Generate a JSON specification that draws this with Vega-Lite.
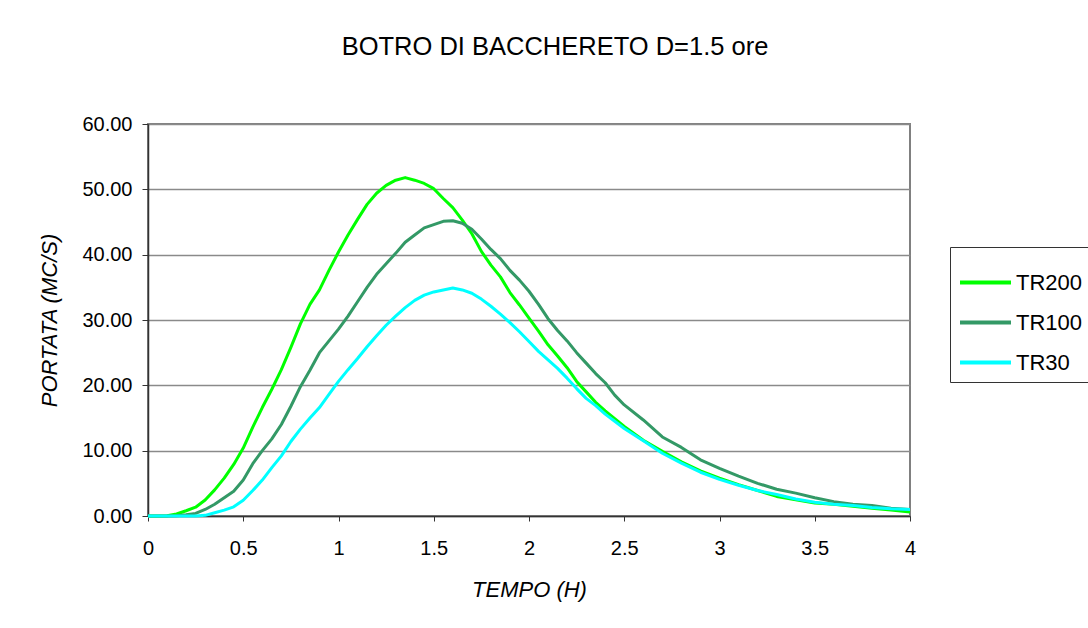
{
  "$schema": "https://vega.github.io/schema/vega-lite/v6.json",
  "width": 762,
  "height": 392,
  "autosize": {"type": "none"},
  "padding": {"left": 148, "top": 124, "right": 178, "bottom": 112},
  "background": "white",
  "title": {
    "text": "BOTRO DI BACCHERETO D=1.5 ore",
    "font": "Liberation Sans",
    "fontSize": 25.5,
    "fontWeight": "normal",
    "color": "#000",
    "anchor": "middle",
    "frame": "group",
    "baseline": "alphabetic",
    "dx": 26,
    "offset": 34
  },
  "config": {
    "view": {"stroke": "#808080", "strokeWidth": 2},
    "font": "Liberation Sans"
  },
  "datasets": {
    "flow": [
      {"t":0,"q":0,"s":"TR200"},{"t":0.05,"q":0,"s":"TR200"},{"t":0.1,"q":0.05,"s":"TR200"},{"t":0.15,"q":0.3,"s":"TR200"},{"t":0.2,"q":0.8,"s":"TR200"},{"t":0.25,"q":1.35,"s":"TR200"},{"t":0.3,"q":2.45,"s":"TR200"},{"t":0.35,"q":4.0,"s":"TR200"},{"t":0.4,"q":5.8,"s":"TR200"},{"t":0.45,"q":7.9,"s":"TR200"},{"t":0.5,"q":10.4,"s":"TR200"},{"t":0.55,"q":13.6,"s":"TR200"},{"t":0.6,"q":16.6,"s":"TR200"},{"t":0.65,"q":19.4,"s":"TR200"},{"t":0.7,"q":22.4,"s":"TR200"},{"t":0.75,"q":25.8,"s":"TR200"},{"t":0.8,"q":29.4,"s":"TR200"},{"t":0.85,"q":32.4,"s":"TR200"},{"t":0.9,"q":34.6,"s":"TR200"},{"t":0.95,"q":37.6,"s":"TR200"},{"t":1.0,"q":40.4,"s":"TR200"},{"t":1.05,"q":43.0,"s":"TR200"},{"t":1.1,"q":45.4,"s":"TR200"},{"t":1.15,"q":47.7,"s":"TR200"},{"t":1.2,"q":49.4,"s":"TR200"},{"t":1.25,"q":50.6,"s":"TR200"},{"t":1.3,"q":51.4,"s":"TR200"},{"t":1.35,"q":51.8,"s":"TR200"},{"t":1.4,"q":51.4,"s":"TR200"},{"t":1.45,"q":50.9,"s":"TR200"},{"t":1.5,"q":50.1,"s":"TR200"},{"t":1.55,"q":48.6,"s":"TR200"},{"t":1.6,"q":47.2,"s":"TR200"},{"t":1.65,"q":45.3,"s":"TR200"},{"t":1.7,"q":43.2,"s":"TR200"},{"t":1.75,"q":40.5,"s":"TR200"},{"t":1.8,"q":38.4,"s":"TR200"},{"t":1.85,"q":36.6,"s":"TR200"},{"t":1.9,"q":34.2,"s":"TR200"},{"t":1.95,"q":32.3,"s":"TR200"},{"t":2.0,"q":30.3,"s":"TR200"},{"t":2.05,"q":28.3,"s":"TR200"},{"t":2.1,"q":26.2,"s":"TR200"},{"t":2.15,"q":24.5,"s":"TR200"},{"t":2.2,"q":22.7,"s":"TR200"},{"t":2.25,"q":20.6,"s":"TR200"},{"t":2.3,"q":19.0,"s":"TR200"},{"t":2.35,"q":17.4,"s":"TR200"},{"t":2.4,"q":16.1,"s":"TR200"},{"t":2.45,"q":14.9,"s":"TR200"},{"t":2.5,"q":13.7,"s":"TR200"},{"t":2.6,"q":11.6,"s":"TR200"},{"t":2.7,"q":9.9,"s":"TR200"},{"t":2.8,"q":8.3,"s":"TR200"},{"t":2.9,"q":6.9,"s":"TR200"},{"t":3.0,"q":5.8,"s":"TR200"},{"t":3.1,"q":4.8,"s":"TR200"},{"t":3.2,"q":3.9,"s":"TR200"},{"t":3.3,"q":3.0,"s":"TR200"},{"t":3.4,"q":2.5,"s":"TR200"},{"t":3.5,"q":2.0,"s":"TR200"},{"t":3.6,"q":1.8,"s":"TR200"},{"t":3.7,"q":1.5,"s":"TR200"},{"t":3.8,"q":1.2,"s":"TR200"},{"t":3.9,"q":0.9,"s":"TR200"},{"t":4.0,"q":0.6,"s":"TR200"},
      {"t":0,"q":0,"s":"TR100"},{"t":0.1,"q":0,"s":"TR100"},{"t":0.15,"q":0.05,"s":"TR100"},{"t":0.2,"q":0.2,"s":"TR100"},{"t":0.25,"q":0.4,"s":"TR100"},{"t":0.3,"q":1.0,"s":"TR100"},{"t":0.35,"q":1.8,"s":"TR100"},{"t":0.4,"q":2.8,"s":"TR100"},{"t":0.45,"q":3.8,"s":"TR100"},{"t":0.5,"q":5.5,"s":"TR100"},{"t":0.55,"q":8.0,"s":"TR100"},{"t":0.6,"q":10.0,"s":"TR100"},{"t":0.65,"q":11.8,"s":"TR100"},{"t":0.7,"q":14.0,"s":"TR100"},{"t":0.75,"q":16.8,"s":"TR100"},{"t":0.8,"q":19.8,"s":"TR100"},{"t":0.85,"q":22.3,"s":"TR100"},{"t":0.9,"q":25.0,"s":"TR100"},{"t":0.95,"q":26.8,"s":"TR100"},{"t":1.0,"q":28.6,"s":"TR100"},{"t":1.05,"q":30.6,"s":"TR100"},{"t":1.1,"q":32.8,"s":"TR100"},{"t":1.15,"q":35.0,"s":"TR100"},{"t":1.2,"q":37.0,"s":"TR100"},{"t":1.25,"q":38.6,"s":"TR100"},{"t":1.3,"q":40.2,"s":"TR100"},{"t":1.35,"q":41.9,"s":"TR100"},{"t":1.4,"q":43.0,"s":"TR100"},{"t":1.45,"q":44.1,"s":"TR100"},{"t":1.5,"q":44.6,"s":"TR100"},{"t":1.55,"q":45.1,"s":"TR100"},{"t":1.6,"q":45.2,"s":"TR100"},{"t":1.65,"q":44.8,"s":"TR100"},{"t":1.7,"q":43.9,"s":"TR100"},{"t":1.75,"q":42.4,"s":"TR100"},{"t":1.8,"q":40.8,"s":"TR100"},{"t":1.85,"q":39.4,"s":"TR100"},{"t":1.9,"q":37.6,"s":"TR100"},{"t":1.95,"q":36.1,"s":"TR100"},{"t":2.0,"q":34.4,"s":"TR100"},{"t":2.05,"q":32.4,"s":"TR100"},{"t":2.1,"q":30.2,"s":"TR100"},{"t":2.15,"q":28.4,"s":"TR100"},{"t":2.2,"q":26.8,"s":"TR100"},{"t":2.25,"q":25.0,"s":"TR100"},{"t":2.3,"q":23.4,"s":"TR100"},{"t":2.35,"q":21.8,"s":"TR100"},{"t":2.4,"q":20.4,"s":"TR100"},{"t":2.45,"q":18.5,"s":"TR100"},{"t":2.5,"q":17.0,"s":"TR100"},{"t":2.6,"q":14.7,"s":"TR100"},{"t":2.7,"q":12.1,"s":"TR100"},{"t":2.8,"q":10.5,"s":"TR100"},{"t":2.9,"q":8.6,"s":"TR100"},{"t":3.0,"q":7.3,"s":"TR100"},{"t":3.1,"q":6.1,"s":"TR100"},{"t":3.2,"q":5.0,"s":"TR100"},{"t":3.3,"q":4.1,"s":"TR100"},{"t":3.4,"q":3.5,"s":"TR100"},{"t":3.5,"q":2.8,"s":"TR100"},{"t":3.6,"q":2.2,"s":"TR100"},{"t":3.7,"q":1.8,"s":"TR100"},{"t":3.8,"q":1.6,"s":"TR100"},{"t":3.9,"q":1.2,"s":"TR100"},{"t":4.0,"q":1.0,"s":"TR100"},
      {"t":0,"q":0,"s":"TR30"},{"t":0.25,"q":0,"s":"TR30"},{"t":0.3,"q":0.1,"s":"TR30"},{"t":0.35,"q":0.5,"s":"TR30"},{"t":0.4,"q":0.9,"s":"TR30"},{"t":0.45,"q":1.4,"s":"TR30"},{"t":0.5,"q":2.4,"s":"TR30"},{"t":0.55,"q":3.9,"s":"TR30"},{"t":0.6,"q":5.5,"s":"TR30"},{"t":0.65,"q":7.4,"s":"TR30"},{"t":0.7,"q":9.2,"s":"TR30"},{"t":0.75,"q":11.4,"s":"TR30"},{"t":0.8,"q":13.3,"s":"TR30"},{"t":0.85,"q":15.0,"s":"TR30"},{"t":0.9,"q":16.6,"s":"TR30"},{"t":0.95,"q":18.6,"s":"TR30"},{"t":1.0,"q":20.6,"s":"TR30"},{"t":1.05,"q":22.4,"s":"TR30"},{"t":1.1,"q":24.1,"s":"TR30"},{"t":1.15,"q":25.9,"s":"TR30"},{"t":1.2,"q":27.6,"s":"TR30"},{"t":1.25,"q":29.2,"s":"TR30"},{"t":1.3,"q":30.6,"s":"TR30"},{"t":1.35,"q":31.9,"s":"TR30"},{"t":1.4,"q":33.0,"s":"TR30"},{"t":1.45,"q":33.8,"s":"TR30"},{"t":1.5,"q":34.3,"s":"TR30"},{"t":1.55,"q":34.6,"s":"TR30"},{"t":1.6,"q":34.9,"s":"TR30"},{"t":1.65,"q":34.6,"s":"TR30"},{"t":1.7,"q":34.1,"s":"TR30"},{"t":1.75,"q":33.2,"s":"TR30"},{"t":1.8,"q":32.1,"s":"TR30"},{"t":1.85,"q":30.9,"s":"TR30"},{"t":1.9,"q":29.6,"s":"TR30"},{"t":1.95,"q":28.2,"s":"TR30"},{"t":2.0,"q":26.7,"s":"TR30"},{"t":2.05,"q":25.2,"s":"TR30"},{"t":2.1,"q":23.9,"s":"TR30"},{"t":2.15,"q":22.6,"s":"TR30"},{"t":2.2,"q":21.1,"s":"TR30"},{"t":2.25,"q":19.5,"s":"TR30"},{"t":2.3,"q":18.0,"s":"TR30"},{"t":2.35,"q":16.9,"s":"TR30"},{"t":2.4,"q":15.6,"s":"TR30"},{"t":2.45,"q":14.5,"s":"TR30"},{"t":2.5,"q":13.4,"s":"TR30"},{"t":2.6,"q":11.5,"s":"TR30"},{"t":2.7,"q":9.6,"s":"TR30"},{"t":2.8,"q":8.1,"s":"TR30"},{"t":2.9,"q":6.7,"s":"TR30"},{"t":3.0,"q":5.6,"s":"TR30"},{"t":3.1,"q":4.7,"s":"TR30"},{"t":3.2,"q":3.9,"s":"TR30"},{"t":3.3,"q":3.3,"s":"TR30"},{"t":3.4,"q":2.6,"s":"TR30"},{"t":3.5,"q":2.1,"s":"TR30"},{"t":3.6,"q":1.8,"s":"TR30"},{"t":3.7,"q":1.6,"s":"TR30"},{"t":3.8,"q":1.3,"s":"TR30"},{"t":3.9,"q":1.1,"s":"TR30"},{"t":4.0,"q":1.0,"s":"TR30"}
    ]
  },
  "data": {"name": "flow"},
  "mark": {"type": "line", "strokeWidth": 3, "strokeJoin": "round"},
  "encoding": {
    "x": {
      "field": "t",
      "type": "quantitative",
      "scale": {"domain": [0, 4], "nice": false, "zero": false},
      "axis": {
        "values": [0, 0.5, 1, 1.5, 2, 2.5, 3, 3.5, 4],
        "format": "~g",
        "grid": false,
        "title": "TEMPO (H)",
        "titleFont": "Liberation Sans",
        "titleFontSize": 22,
        "titleFontStyle": "italic",
        "titleFontWeight": "normal",
        "titleColor": "#000",
        "titlePadding": 21,
        "labelFont": "Liberation Sans",
        "labelFontSize": 20,
        "labelColor": "#000",
        "labelPadding": 17,
        "labelFlush": false,
        "labelOverlap": false,
        "domainColor": "#333",
        "domainWidth": 1.5,
        "tickColor": "#333",
        "tickSize": 5,
        "tickWidth": 1
      }
    },
    "y": {
      "field": "q",
      "type": "quantitative",
      "scale": {"domain": [0, 60], "nice": false},
      "axis": {
        "values": [0, 10, 20, 30, 40, 50, 60],
        "format": ".2f",
        "grid": true,
        "gridColor": "#8a8a8a",
        "gridWidth": 1.5,
        "title": "PORTATA (MC/S)",
        "titleFont": "Liberation Sans",
        "titleFontSize": 22,
        "titleFontStyle": "italic",
        "titleFontWeight": "normal",
        "titleColor": "#000",
        "titlePadding": 20,
        "labelFont": "Liberation Sans",
        "labelFontSize": 20,
        "labelColor": "#000",
        "labelPadding": 10,
        "labelFlush": false,
        "labelOverlap": false,
        "domainColor": "#333",
        "domainWidth": 1.5,
        "tickColor": "#333",
        "tickSize": 6,
        "tickWidth": 1
      }
    },
    "color": {
      "field": "s",
      "type": "nominal",
      "sort": ["TR200", "TR100", "TR30"],
      "scale": {"domain": ["TR200", "TR100", "TR30"], "range": ["#00FF00", "#339966", "#00FFFF"]},
      "legend": {
        "title": null,
        "orient": "none",
        "legendX": 802,
        "legendY": 123,
        "padding": 8,
        "strokeColor": "#333",
        "fillColor": "white",
        "symbolType": "stroke",
        "symbolSize": 2601,
        "symbolStrokeWidth": 4,
        "labelFont": "Liberation Sans",
        "labelFontSize": 22,
        "labelColor": "#000",
        "labelOffset": 3,
        "rowPadding": 1
      }
    }
  }
}
